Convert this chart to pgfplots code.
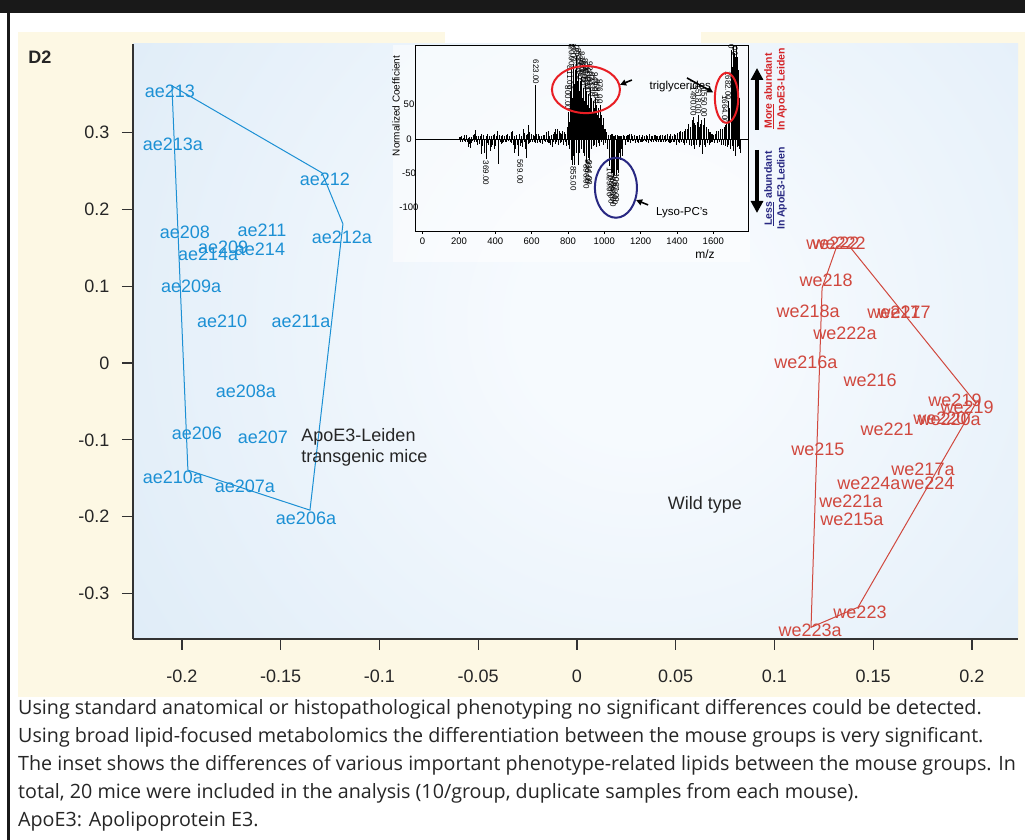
\documentclass[border=0pt]{standalone}
\usepackage{fontspec}
\setmainfont{Liberation Sans}
\newfontfamily\capfont{Open Sans}
\usepackage{pgfplots}
\pgfplotsset{compat=1.18}
\usepackage{pgfplotstable}
\usetikzlibrary{arrows.meta}

\definecolor{cream}{RGB}{253,248,228}
\definecolor{bgblue}{RGB}{210,228,244}
\definecolor{bgmid}{RGB}{218,233,246}
\definecolor{bgwhite}{RGB}{246,250,254}
\definecolor{ptblue}{RGB}{28,144,212}
\definecolor{ptred}{RGB}{208,72,62}
\definecolor{axgray}{RGB}{50,50,50}
\definecolor{txt}{RGB}{38,38,38}
\definecolor{ellred}{RGB}{232,30,36}
\definecolor{navy}{RGB}{40,40,130}
\definecolor{tred}{RGB}{212,36,40}

\pgfdeclareradialshading{bgshade}{\pgfpoint{0bp}{0bp}}{color(0bp)=(bgwhite); color(5bp)=(bgwhite); color(30bp)=(bgmid); color(50bp)=(bgblue)}

\pgfplotstableread{
x y label
-0.2061 0.3529 ae213
-0.2046 0.2839 ae213a
-0.1276 0.2396 ae212
-0.1985 0.1706 ae208
-0.1595 0.1732 ae211
-0.1190 0.1641 ae212a
-0.1792 0.1510 ae209
-0.1605 0.1484 ae214
-0.1868 0.1419 ae214a
-0.1954 0.1003 ae209a
-0.1797 0.0547 ae210
-0.1397 0.0547 ae211a
-0.1676 -0.0365 ae208a
-0.1924 -0.0911 ae206
-0.1590 -0.0964 ae207
-0.2046 -0.1484 ae210a
-0.1681 -0.1602 ae207a
-0.1372 -0.2018 ae206a
}\bluepts

\pgfplotstableread{
x y label
0.1296 0.1563 we222
0.1327 0.1563 we222
0.1261 0.1081 we218
0.1170 0.0677 we218a
0.1605 0.0664 we217
0.1656 0.0664 we217
0.1357 0.0391 we222a
0.1159 0.0013 we216a
0.1484 -0.0221 we216
0.1914 -0.0482 we219
0.1975 -0.0573 we219
0.1838 -0.0716 we220
0.1884 -0.0729 we220a
0.1570 -0.0859 we221
0.1220 -0.1120 we215
0.1752 -0.1380 we217a
0.1478 -0.1563 we224a
0.1777 -0.1563 we224
0.1387 -0.1797 we221a
0.1392 -0.2031 we215a
0.1433 -0.3242 we223
0.1180 -0.3477 we223a
}\redpts

\pgfplotstableread{
mz v
200 3
207 -4
214 5
221 -3
228 6
235 -5
242 4
249 -11
256 3
263 -13
270 -6
277 4
284 8
290 13
297 -4
304 5
311 -7
318 4
325 -22
332 6
339 -20
348 -29
355 7
362 -9
369 5
376 -12
383 -8
390 6
397 -15
404 4
411 12
417 -36
424 5
431 -7
438 6
445 -4
452 5
459 -5
466 7
473 -3
480 4
487 -6
494 12
500 -5
507 -20
514 6
521 -9
527 -25
534 8
541 -6
547 -12
554 15
561 -5
569 -28
576 7
582 20
589 -6
596 8
603 -4
610 6
617 -5
623 78
630 -6
637 7
644 -4
651 5
658 -7
665 6
672 -3
679 10
686 -5
693 12
700 -6
707 5
714 -12
721 8
728 15
735 -5
742 14
749 -8
756 9
763 -4
770 11
777 -6
784 8
791 -10
797 12
800 40
804 -8
806 25
808 -15
811 70
816 55
818 -30
820 105
823 -38
825 60
828 -25
830 110
834 80
836 -38
839 100
843 70
846 -20
848 121
852 85
855 -38
857 95
861 70
864 -20
866 85
871 65
873 -15
876 90
880 60
883 -20
885 75
889 55
892 -25
894 80
898 60
901 -35
903 70
907 50
910 -28
912 65
916 45
918 -30
921 75
926 50
928 -15
931 60
935 40
938 -10
940 55
944 45
947 -8
949 60
953 40
956 -12
958 50
962 35
965 -6
967 45
971 30
974 -10
976 50
981 25
984 -5
986 35
990 20
993 -8
995 30
1000 15
1004 15
1008 -6
1013 10
1018 -15
1024 6
1029 -40
1034 5
1039 -50
1044 8
1048 -55
1053 5
1058 -52
1063 6
1067 -48
1072 4
1077 -50
1082 5
1087 -30
1093 4
1100 -25
1107 6
1114 -8
1121 5
1128 -4
1135 6
1142 -5
1149 8
1156 -3
1163 5
1170 -6
1177 4
1184 -4
1191 6
1198 -5
1205 3
1212 -4
1219 5
1226 -3
1233 6
1240 -5
1247 4
1254 -3
1261 5
1268 -4
1275 6
1282 -3
1289 4
1296 -5
1303 5
1310 -4
1317 6
1324 -3
1331 4
1338 -5
1345 7
1352 -4
1359 5
1366 -6
1373 4
1380 -5
1387 8
1394 -4
1401 6
1408 -5
1415 10
1422 -4
1429 8
1436 -6
1443 12
1450 -5
1457 15
1463 22
1468 -8
1474 18
1480 -6
1485 28
1490 32
1495 -10
1500 20
1506 -8
1512 25
1518 35
1523 -12
1529 22
1536 28
1540 -22
1545 20
1550 30
1555 -12
1560 18
1566 -6
1573 15
1580 -8
1586 10
1591 -5
1597 8
1604 -6
1611 8
1618 12
1624 -5
1630 10
1636 15
1642 -8
1648 12
1654 -6
1659 18
1664 20
1669 -10
1673 25
1678 -12
1682 55
1687 35
1691 40
1695 -15
1700 130
1704 90
1709 137
1714 110
1719 120
1723 -25
1728 137
1732 80
1737 100
1741 -15
1746 30
1750 -20
}\spectrum

\pgfplotstableread{
mz v
203 -2
210 3
217 -5
224 2
231 -3
238 6
245 -4
252 2
259 -7
266 3
273 -3
280 6
287 -5
294 4
300 -8
307 3
314 -4
321 7
328 -10
335 4
342 -15
351 5
358 -6
365 3
372 -18
379 4
386 -5
393 8
400 -10
407 3
414 -20
420 6
427 -5
434 4
441 -6
448 3
455 -4
462 6
469 -3
476 5
483 -5
490 10
497 -8
503 4
510 -14
517 5
524 -16
530 6
537 -10
544 5
551 -8
557 9
564 -15
572 6
579 -7
585 10
592 -5
599 6
606 -4
613 5
620 -6
626 8
633 -5
640 4
647 -6
654 5
661 -4
668 6
675 -5
682 7
689 -6
696 5
703 -8
710 6
717 -5
724 10
731 -7
738 8
745 -5
752 12
759 -6
766 7
773 -8
780 10
787 -5
794 18
1003 -6
1010 5
1015 -10
1021 4
1026 -30
1031 6
1036 -45
1041 7
1046 -50
1050 4
1055 -48
1060 5
1065 -53
1069 6
1074 -45
1079 4
1085 -20
1090 5
1096 -15
1103 4
1110 4
1117 -5
1124 6
1131 -4
1138 7
1145 -6
1152 5
1159 -3
1166 6
1173 -5
1180 4
1187 -6
1194 5
1201 -4
1208 6
1215 -3
1222 5
1229 -5
1236 4
1243 -6
1250 7
1257 -4
1264 5
1271 -3
1278 6
1285 -5
1292 4
1299 -4
1306 6
1313 -5
1320 5
1327 -4
1334 6
1341 -3
1348 5
1355 -6
1362 7
1369 -4
1376 5
1383 -5
1390 6
1397 -8
1404 9
1411 -6
1418 12
1425 -5
1432 10
1439 -8
1446 14
1453 -6
1460 16
1471 12
1477 -10
1483 20
1488 -8
1493 24
1498 -14
1503 15
1509 -6
1515 20
1521 18
1526 -8
1532 26
1538 -15
1543 14
1548 -8
1553 22
1558 -6
1563 12
1569 -5
1576 10
1583 -6
1589 8
1594 -4
1601 6
1608 -5
1614 9
1621 -6
1627 12
1633 -4
1639 10
1645 -6
1651 14
1657 -8
1662 16
1667 -6
1671 22
1676 -10
1680 30
1685 -8
1689 45
1693 -12
1697 60
1702 -10
1706 105
1711 -18
1716 125
1721 -20
1725 110
1730 -12
1734 120
1739 -10
1743 60
1748 -18
}\spectrumb

\begin{document}
\begin{tikzpicture}[x=1pt,y=1pt]
\useasboundingbox (0,0) rectangle (1025,840);
\fill[white] (0,0) rectangle (1025,840);
\fill[black!90] (0,827) rectangle (1025,840);
\fill[black!90] (7,0) rectangle (9.5,827);
\fill[cream] (18,143) rectangle (1025,808);
\fill[white] (445,796) rectangle (701,810);
% plot background
\fill[bgblue] (133,201) rectangle (1018,796);
\begin{scope}
\clip (133,201) rectangle (1018,796);
\shade[shading=bgshade] (40,-80) rectangle (1240,1120);
\end{scope}
\node[font=\bfseries\fontsize{18}{18}\selectfont, text=txt] at (40,783) {D2};

\begin{axis}[
  at={(133pt,201pt)}, anchor=south west, scale only axis,
  width=885pt, height=595pt,
  xmin=-0.2248, xmax=0.2233, ymin=-0.359, ymax=0.415,
  axis x line*=bottom, axis y line*=left,
  axis line style={axgray, line width=1.2pt, -},
  xtick={-0.2,-0.15,-0.1,-0.05,0,0.05,0.1,0.15,0.2},
  xticklabels={-0.2,-0.15,-0.1,-0.05,0,0.05,0.1,0.15,0.2},
  ytick={-0.3,-0.2,-0.1,0,0.1,0.2,0.3},
  yticklabels={-0.3,-0.2,-0.1,0,0.1,0.2,0.3},
  tick align=outside, major tick length=11pt,
  tick style={axgray, line width=1.2pt},
  ticklabel style={font=\fontsize{18}{20}\selectfont, text=txt},
  xticklabel style={yshift=-16pt}, yticklabel style={xshift=-9pt},
  clip=false,
]
\addplot[ptblue, line width=1pt] coordinates {(-0.2051,0.3607) (-0.1291,0.2474) (-0.1185,0.1810) (-0.1352,-0.1914) (-0.1970,-0.1393) (-0.2051,0.3607)};
\addplot[ptred, line width=1pt] coordinates {(0.1316,0.1523) (0.1382,0.1510) (0.2020,-0.0521) (0.1423,-0.3177) (0.1185,-0.3438) (0.1241,0.0977) (0.1316,0.1523)};
\addplot[draw=none, nodes near coords, point meta=explicit symbolic,
  every node near coord/.append style={anchor=center, text=ptblue, font=\fontsize{18}{18}\selectfont, inner sep=0pt}]
  table[x=x, y=y, meta=label] {\bluepts};
\addplot[draw=none, nodes near coords, point meta=explicit symbolic,
  every node near coord/.append style={anchor=center, text=ptred, font=\fontsize{18}{18}\selectfont, inner sep=0pt}]
  table[x=x, y=y, meta=label] {\redpts};
\node[anchor=west, align=left, text=txt, font=\fontsize{18}{21}\selectfont] at (axis cs:-0.1413,-0.110) {ApoE3-Leiden\\transgenic mice};
\node[text=txt, font=\fontsize{18}{21}\selectfont] at (axis cs:0.0648,-0.1849) {Wild type};
\end{axis}

% inset panel
\fill[white, opacity=0.55] (393,578) rectangle (750,795);
\begin{axis}[
  at={(415pt,609pt)}, anchor=south west, scale only axis,
  width=333pt, height=186pt,
  xmin=-42, xmax=1791, ymin=-134, ymax=137,
  axis line style={black, line width=0.8pt},
  xtick={0,200,400,600,800,1000,1200,1400,1600},
  xticklabels={0,200,400,600,800,1000,1200,1400,1600},
  ytick={-100,-50,0,50},
  yticklabels={-100,-50,0,50},
  xtick pos=left, ytick pos=left,
  tick align=outside, major tick length=3pt,
  xtick style={black, line width=0.6pt},
  ytick style={draw=none},
  ticklabel style={font=\fontsize{9.5}{10}\selectfont, text=black},
  yticklabel style={anchor=center, xshift=-3pt},
  xlabel={m/z},
  xlabel style={at={(axis description cs:0.871,-0.124)}, anchor=center, font=\fontsize{12}{12}\selectfont},
  ylabel={Normalized Coefficient},
  ylabel style={at={(axis description cs:-0.057,0.672)}, anchor=center, font=\fontsize{10}{10}\selectfont},
]
\draw[black, line width=0.6pt] (axis cs:-42,0) -- (axis cs:1791,0);
\addplot[ycomb, black, line width=0.7pt, mark=none] table[x=mz, y=v] {\spectrum};
\addplot[ycomb, black, line width=0.6pt, mark=none] table[x=mz, y=v] {\spectrumb};
\begin{scope}[every node/.style={rotate=-90, font=\fontsize{8}{8}\selectfont, inner sep=1pt}]
\node[anchor=east] at (axis cs:623,78) {623.00};
\node[anchor=east] at (axis cs:800,40) {800.00};
\node[anchor=east] at (axis cs:811,70) {811.00};
\node[anchor=east] at (axis cs:820,105) {820.00};
\node[anchor=east] at (axis cs:830,110) {830.00};
\node[anchor=east] at (axis cs:848,121) {848.00};
\node[anchor=east] at (axis cs:857,95) {857.00};
\node[anchor=east] at (axis cs:866,85) {866.00};
\node[anchor=east] at (axis cs:876,90) {876.00};
\node[anchor=east] at (axis cs:885,75) {885.00};
\node[anchor=east] at (axis cs:894,80) {894.00};
\node[anchor=east] at (axis cs:903,70) {903.00};
\node[anchor=east] at (axis cs:912,65) {912.00};
\node[anchor=east] at (axis cs:921,75) {921.00};
\node[anchor=east] at (axis cs:931,60) {931.00};
\node[anchor=east] at (axis cs:949,60) {949.00};
\node[anchor=east] at (axis cs:958,50) {958.00};
\node[anchor=east] at (axis cs:976,50) {976.00};
\node[anchor=east] at (axis cs:1490,32) {1490.00};
\node[anchor=east] at (axis cs:1518,35) {1518.00};
\node[anchor=east] at (axis cs:1550,30) {1550.00};
\node[anchor=east] at (axis cs:1664,20) {1664.00};
\node[anchor=east] at (axis cs:1682,55) {1682.00};
\node[anchor=east] at (axis cs:1700,130) {1700.00};
\node[anchor=east] at (axis cs:1709,137) {1709.00};
\node[anchor=east] at (axis cs:1719,120) {1719.00};
\node[anchor=east] at (axis cs:1728,137) {1728.00};
\node[anchor=west] at (axis cs:348,-30) {369.00};
\node[anchor=west] at (axis cs:536,-28) {569.00};
\node[anchor=west] at (axis cs:830,-38) {855.00};
\node[anchor=west] at (axis cs:901,-35) {896.00};
\node[anchor=west] at (axis cs:910,-28) {906.00};
\node[anchor=west] at (axis cs:918,-30) {914.00};
\node[anchor=west] at (axis cs:1029,-40) {1029.00};
\node[anchor=west] at (axis cs:1039,-50) {1039.00};
\node[anchor=west] at (axis cs:1048,-55) {1048.00};
\node[anchor=west] at (axis cs:1058,-52) {1058.00};
\node[anchor=west] at (axis cs:1067,-48) {1067.00};
\end{scope}
\draw[ellred, line width=2pt] (axis cs:899,72) ellipse [x radius=34pt, y radius=23.5pt];
\draw[ellred, line width=2pt] (axis cs:1673,60) ellipse [x radius=11.7pt, y radius=25pt];
\draw[navy, line width=2pt] (axis cs:1064,-71) ellipse [x radius=21pt, y radius=30pt];
\draw[line width=1.6pt, -{Triangle[width=6pt,length=6pt]}] (axis cs:1152,86) -- (axis cs:1087,79);
\draw[line width=1.6pt, -{Triangle[width=6pt,length=6pt]}] (axis cs:1455,89) -- (axis cs:1599,68);
\draw[line width=1.6pt, -{Triangle[width=6pt,length=6pt]}] (axis cs:1241,-96) -- (axis cs:1175,-89);
\node[font=\fontsize{11.5}{12}\selectfont] at (axis cs:1418,76) {triglycerides};
\node[font=\fontsize{11.5}{12}\selectfont] at (axis cs:1428,-108) {Lyso-PC's};
\end{axis}

% side arrows and texts
\draw[line width=4pt, -{Triangle[width=12pt,length=12pt]}] (757,710) -- (757,772);
\draw[line width=4pt, -{Triangle[width=12pt,length=12pt]}] (757,690) -- (757,627);
\node[rotate=90, text=tred, font=\bfseries\fontsize{10.5}{10.5}\selectfont, inner sep=0pt] at (769,749) {\underline{More} abundant};
\node[rotate=90, text=tred, font=\bfseries\fontsize{10.5}{10.5}\selectfont, inner sep=0pt] at (782,750.5) {In ApoE3-Leiden};
\node[rotate=90, text=navy, font=\bfseries\fontsize{10.5}{10.5}\selectfont, inner sep=0pt] at (769,651.5) {\underline{Less} abundant};
\node[rotate=90, text=navy, font=\bfseries\fontsize{10.5}{10.5}\selectfont, inner sep=0pt] at (782,651.5) {In ApoE3-Ledien};

% caption
\begin{scope}[every node/.style={anchor=base west, inner sep=0pt, text=txt, font=\capfont\fontsize{19.7}{22}\selectfont}]
\node at (18,125) {Using standard anatomical or histopathological phenotyping no significant differences could be detected.};
\node at (18,97) {Using broad lipid-focused metabolomics the differentiation between the mouse groups is very significant.};
\node at (18,69) {The inset shows the differences of various important phenotype-related lipids between the mouse groups. In};
\node at (18,41) {total, 20 mice were included in the analysis (10/group, duplicate samples from each mouse).};
\node at (18,13) {ApoE3: Apolipoprotein E3.};
\end{scope}
\end{tikzpicture}
\end{document}
